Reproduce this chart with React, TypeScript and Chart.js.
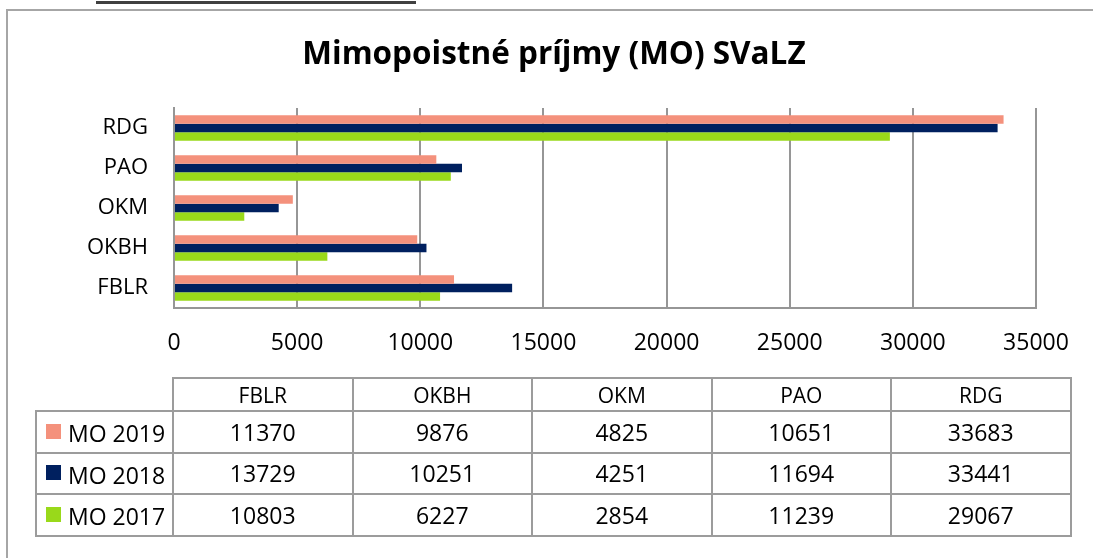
import React, { useEffect, useRef } from "react";
import { Chart, registerables } from "chart.js";

Chart.register(...registerables);

const categories = ["FBLR", "OKBH", "OKM", "PAO", "RDG"];
const seriesNames = ["MO 2019", "MO 2018", "MO 2017"];
const mo2019 = [11370, 9876, 4825, 10651, 33683];
const mo2018 = [13729, 10251, 4251, 11694, 33441];
const mo2017 = [10803, 6227, 2854, 11239, 29067];
const seriesColors = ["#F4917C", "#00205F", "#99D91A"];
const xTicks = [0, 5000, 10000, 15000, 20000, 25000, 30000, 35000];
const titleText = "Mimopoistné príjmy (MO) SVaLZ";

const seriesValues = [mo2019, mo2018, mo2017];
const FONT = "'Open Sans', 'Liberation Sans', sans-serif";
const GRID = "#969696";

export default function App() {
  const canvasRef = useRef<HTMLCanvasElement | null>(null);

  useEffect(() => {
    if (!canvasRef.current) return;
    const chart = new Chart(canvasRef.current, {
      type: "bar",
      data: {
        labels: categories,
        datasets: seriesNames.map((name, i) => ({
          label: name,
          data: seriesValues[i],
          backgroundColor: seriesColors[i],
          borderWidth: 0,
          barPercentage: 1,
          categoryPercentage: 0.64,
        })),
      },
      options: {
        indexAxis: "y",
        responsive: false,
        animation: false,
        layout: { padding: { left: 0, right: 57, top: 108, bottom: 0 } },
        plugins: {
          legend: { display: false },
          tooltip: { enabled: false },
          title: { display: false },
        },
        scales: {
          x: {
            min: 0,
            max: 35000,
            afterBuildTicks: (axis: any) => {
              axis.ticks = xTicks.map((v) => ({ value: v }));
            },
            afterFit: (axis: any) => {
              axis.height = 62;
            },
            grid: { color: GRID, lineWidth: 2, drawTicks: false },
            border: { display: true, color: GRID, width: 2 },
            ticks: {
              color: "#000",
              font: { family: FONT, size: 23 },
              padding: 22,
              maxRotation: 0,
              autoSkip: false,
              callback: (v: any) => String(v),
            },
          },
          y: {
            reverse: true,
            afterFit: (axis: any) => {
              axis.width = 174;
            },
            grid: { display: false, drawTicks: false },
            border: { display: true, color: GRID, width: 2 },
            ticks: {
              color: "#000",
              font: { family: FONT, size: 22 },
              padding: 26,
            },
          },
        },
      },
    });
    return () => chart.destroy();
  }, []);

  const colW = [137, 179.5, 179.5, 179.5, 179.5, 179.5];
  const cellBorder = "2px solid #9c9c9c";
  const cellBase: React.CSSProperties = {
    border: cellBorder,
    padding: 0,
    textAlign: "center",
    color: "#000",
    fontFamily: FONT,
    whiteSpace: "nowrap",
  };

  return (
    <div
      style={{
        position: "absolute",
        left: 0,
        top: 0,
        width: 1093,
        height: 558,
        background: "#fff",
        overflow: "hidden",
      }}
    >
      <div
        style={{
          position: "absolute",
          left: 96,
          top: 1,
          width: 320,
          height: 3,
          background: "#404040",
        }}
      />
      <canvas
        ref={canvasRef}
        width={1093}
        height={370}
        style={{ position: "absolute", left: 0, top: 0, display: "block" }}
      />
      <div
        style={{
          position: "absolute",
          left: 254,
          top: 32,
          width: 600,
          height: 40,
          lineHeight: "40px",
          textAlign: "center",
          fontFamily: FONT,
          fontWeight: "bold",
          fontSize: 31.5,
          color: "#000",
          whiteSpace: "nowrap",
        }}
      >
        {titleText}
      </div>
      <div
        style={{
          position: "absolute",
          left: 6,
          top: 9,
          width: 1100,
          height: 560,
          borderTop: "2px solid #a6a6a6",
          borderLeft: "2px solid #a6a6a6",
          pointerEvents: "none",
        }}
      />
      <table
        style={{
          position: "absolute",
          left: 35,
          top: 377,
          borderCollapse: "collapse",
          tableLayout: "fixed",
          width: 1035.5,
        }}
      >
        <colgroup>
          {colW.map((w, i) => (
            <col key={i} style={{ width: w }} />
          ))}
        </colgroup>
        <tbody>
          <tr style={{ height: 33 }}>
            <td style={{ ...cellBase, border: "none" }}></td>
            {categories.map((c) => (
              <td key={c} style={{ ...cellBase, fontSize: 21 }}>
                {c}
              </td>
            ))}
          </tr>
          {seriesNames.map((name, i) => (
            <tr key={name} style={{ height: 41.5 }}>
              <td style={{ ...cellBase, textAlign: "left", fontSize: 23 }}>
                <span
                  style={{
                    display: "inline-block",
                    width: 15,
                    height: 15,
                    background: seriesColors[i],
                    marginLeft: 9,
                    marginRight: 7,
                    verticalAlign: "middle",
                    position: "relative",
                    top: -2,
                  }}
                />
                <span style={{ verticalAlign: "middle" }}>{name}</span>
              </td>
              {seriesValues[i].map((v, j) => (
                <td key={j} style={{ ...cellBase, fontSize: 23 }}>
                  {String(v)}
                </td>
              ))}
            </tr>
          ))}
        </tbody>
      </table>
    </div>
  );
}
